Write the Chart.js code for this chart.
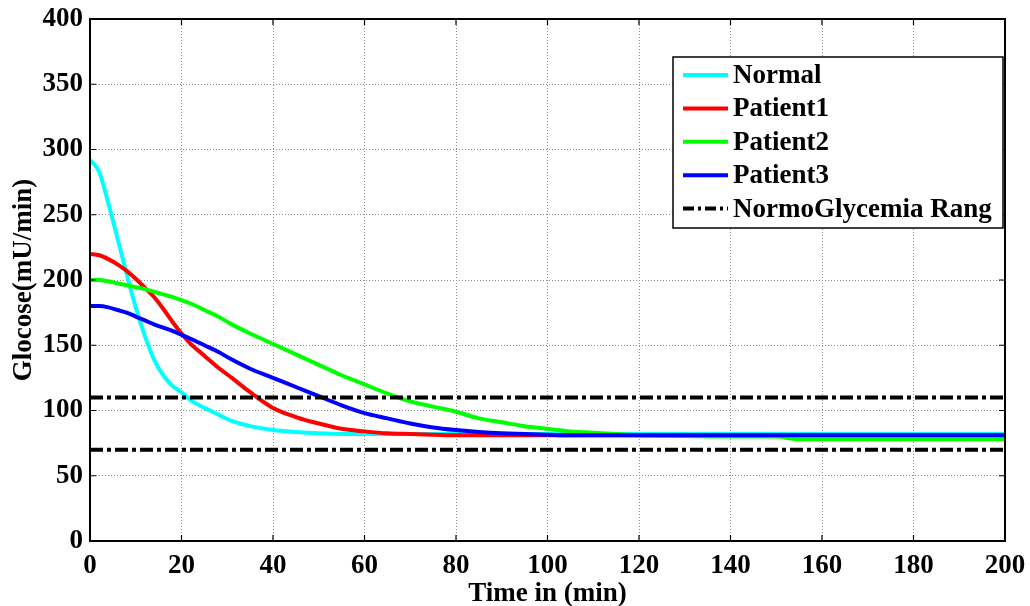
<!DOCTYPE html>
<html>
<head>
<meta charset="utf-8">
<script src="https://cdn.jsdelivr.net/npm/chart.js@4"></script>
<style>
  html, body { margin: 0; padding: 0; background: #fff; }
  #wrap { width: 1030px; height: 606px; }
</style>
</head>
<body>
<div id="wrap"><canvas id="chart" width="1030" height="606"></canvas></div>
<script>
// sample times (min)
const times = [0, 2, 4, 6, 8, 10, 12, 14, 16, 18, 20, 22, 25, 28, 31, 35, 40, 45, 50, 55, 60,
  65, 70, 75, 80, 85, 90, 95, 100, 105, 110, 115, 120, 130, 140, 150, 155, 160, 170, 180, 190, 200];

// glucose values
const normal = [292, 283, 259, 232, 205, 179, 157, 139, 127, 119, 114, 108, 102, 97, 92, 88, 85, 83.5, 82.5, 82, 82,
  82, 82, 82, 82, 82, 82, 82, 82, 82, 82, 82, 82, 82, 82, 82, 82, 82, 82, 82, 82, 82];
const patient1 = [220, 219, 216, 212, 207, 201, 194, 187, 178, 168, 159, 151, 142, 133, 125, 114, 102, 95, 90, 86, 84,
  82.5, 82, 81.5, 81, 81, 81, 81, 81, 81, 81, 81, 81, 81, 81, 81, 81, 81, 81, 81, 81, 81];
const patient2 = [200, 200, 199, 197.5, 196, 194.5, 193, 191, 189, 187, 184.5, 182, 177, 172, 166, 159, 151, 143, 135, 127, 120,
  113, 107, 103, 99, 94, 91, 88, 86, 84, 83, 82, 81, 80.5, 80, 80, 78, 78, 78, 78, 78, 78];
const patient3 = [180, 180, 179, 177, 175, 172, 169, 166, 163.5, 161, 158, 155, 150, 145, 139, 132, 125, 118, 111, 104, 98,
  94, 90, 87, 85, 83.5, 82.5, 82, 81.5, 81, 81, 81, 81, 81, 81, 81, 81, 81, 81, 81, 81, 81];

// normoglycemia range limits
const normoUpper = 110;
const normoLower = 70;
const timeRange = [0, 200];

const seriesNames = ['Normal', 'Patient1', 'Patient2', 'Patient3', 'NormoGlycemia Rang'];
const seriesColors = ['#00ffff', '#ff0000', '#00ff00', '#0000ff', '#000000'];

const xTicks = [0, 20, 40, 60, 80, 100, 120, 140, 160, 180, 200];
const yTicks = [0, 50, 100, 150, 200, 250, 300, 350, 400];

const FONT = 'Liberation Serif';
const dashDot = [13, 4, 4, 4];

function pts(ys) {
  return times.map((t, i) => ({ x: t, y: ys[i] }));
}
function flat(v) {
  return timeRange.map(t => ({ x: t, y: v }));
}

const curves = [normal, patient1, patient2, patient3];
const datasets = curves.map((ys, i) => ({
  label: seriesNames[i],
  data: pts(ys),
  borderColor: seriesColors[i],
  borderWidth: 4,
  pointRadius: 0,
  cubicInterpolationMode: 'monotone',
  order: 4 - i,
  inLegend: true
}));
datasets.push({
  label: seriesNames[4],
  data: flat(normoUpper),
  borderColor: seriesColors[4],
  borderWidth: 4,
  borderDash: dashDot,
  pointRadius: 0,
  order: 0,
  inLegend: true
});
datasets.push({
  label: seriesNames[4],
  data: flat(normoLower),
  borderColor: seriesColors[4],
  borderWidth: 4,
  borderDash: dashDot,
  pointRadius: 0,
  order: 0,
  inLegend: false
});

// frame, inward ticks on all sides, and a MATLAB-like legend box
const framePlugin = {
  id: 'frame',
  afterDatasetsDraw(chart) {
    const { ctx, chartArea: a, scales } = chart;
    const tl = 6;
    ctx.save();
    ctx.strokeStyle = '#000';
    ctx.lineWidth = 1.2;
    ctx.beginPath();
    xTicks.forEach(v => {
      const px = scales.x.getPixelForValue(v);
      ctx.moveTo(px, a.bottom); ctx.lineTo(px, a.bottom - tl);
      ctx.moveTo(px, a.top); ctx.lineTo(px, a.top + tl);
    });
    yTicks.forEach(v => {
      const py = scales.y.getPixelForValue(v);
      ctx.moveTo(a.left, py); ctx.lineTo(a.left + tl, py);
      ctx.moveTo(a.right, py); ctx.lineTo(a.right - tl, py);
    });
    ctx.stroke();
    ctx.lineWidth = 2;
    ctx.strokeRect(a.left, a.top, a.right - a.left, a.bottom - a.top);

    // legend
    const bw = 330, bh = 171;
    const bx = a.right - 2 - bw, by = a.top + 38;
    ctx.fillStyle = '#fff';
    ctx.fillRect(bx, by, bw, bh);
    ctx.lineWidth = 1.5;
    ctx.strokeRect(bx, by, bw, bh);
    ctx.font = 'bold 27px "' + FONT + '"';
    ctx.textBaseline = 'middle';
    ctx.textAlign = 'left';
    const items = chart.data.datasets.filter(d => d.inLegend);
    items.forEach((d, i) => {
      const cy = by + 18 + i * 33.4;
      ctx.beginPath();
      ctx.strokeStyle = d.borderColor;
      ctx.lineWidth = 4;
      ctx.setLineDash(d.borderDash ? [11, 4, 3, 4] : []);
      ctx.moveTo(bx + 10, cy);
      ctx.lineTo(bx + 55, cy);
      ctx.stroke();
      ctx.setLineDash([]);
      ctx.fillStyle = '#000';
      ctx.fillText(d.label, bx + 60, cy + 1);
    });
    ctx.restore();
  }
};

new Chart(document.getElementById('chart'), {
  type: 'line',
  data: { datasets: datasets },
  options: {
    responsive: false,
    animation: false,
    layout: { padding: { top: 19, right: 25, left: 0, bottom: 0 } },
    plugins: {
      legend: { display: false },
      tooltip: { enabled: false }
    },
    scales: {
      x: {
        type: 'linear',
        min: timeRange[0],
        max: timeRange[1],
        afterFit(scale) {
          scale.height = 65;
          scale.paddingLeft = 0;
          scale.paddingRight = 0;
        },
        afterBuildTicks(scale) { scale.ticks = xTicks.map(v => ({ value: v })); },
        grid: { color: '#8c8c8c', lineWidth: 1, drawTicks: false },
        border: { display: false, dash: [1, 2] },
        ticks: {
          padding: 9,
          color: '#000',
          font: { family: FONT, size: 27, weight: 'bold' }
        },
        title: {
          display: true,
          text: 'Time in (min)',
          color: '#000',
          padding: { top: 0, bottom: 0 },
          font: { family: FONT, size: 27, weight: 'bold', lineHeight: 0.85 }
        }
      },
      y: {
        min: 0,
        max: 400,
        afterFit(scale) {
          scale.width = 90;
          scale.paddingTop = 0;
          scale.paddingBottom = 0;
        },
        afterBuildTicks(scale) { scale.ticks = yTicks.map(v => ({ value: v })); },
        grid: { color: '#8c8c8c', lineWidth: 1, drawTicks: false },
        border: { display: false, dash: [1, 2] },
        ticks: {
          padding: 7,
          color: '#000',
          font: { family: FONT, size: 27, weight: 'bold' }
        },
        title: {
          display: true,
          text: 'Glocose(mU/min)',
          color: '#000',
          padding: { top: 11, bottom: 0 },
          font: { family: FONT, size: 27, weight: 'bold', lineHeight: 1 }
        }
      }
    }
  },
  plugins: [framePlugin]
});
</script>
</body>
</html>
